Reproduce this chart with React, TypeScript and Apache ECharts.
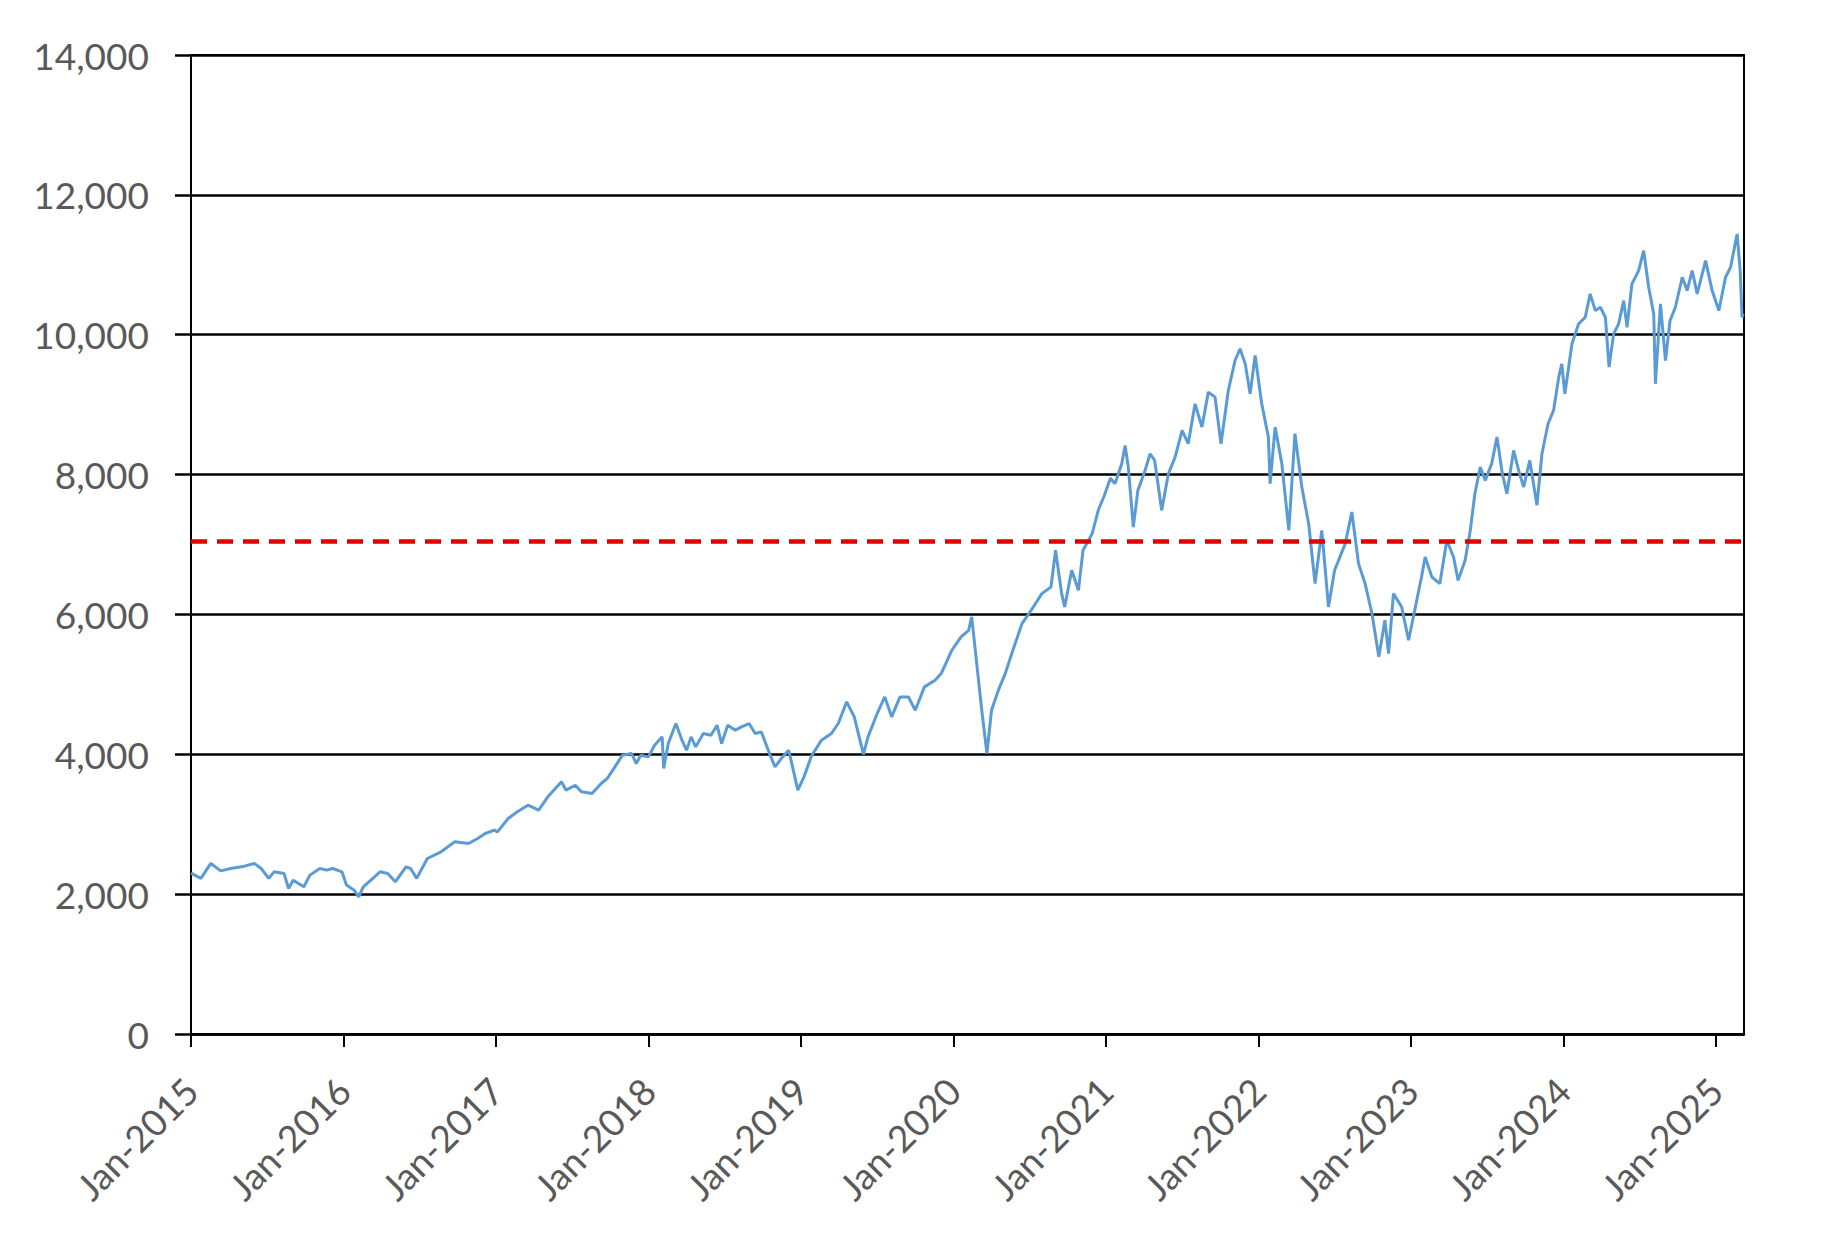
import React, { useEffect, useRef } from "react";
import * as echarts from "echarts";

// Year ticks on the x axis (label "Jan-YYYY")
const tickYears = [2015, 2016, 2017, 2018, 2019, 2020, 2021, 2022, 2023, 2024, 2025];
const startYear = 2015;
const endYearOffset = 10.185; // data run to early March 2025

// Time offsets in years from Jan-2015
const times = [
  0.0, 0.065, 0.13, 0.195, 0.26, 0.35, 0.415, 0.46, 0.51, 0.545, 0.61, 0.64, 0.67, 0.74, 0.78, 0.845, 0.89, 0.93, 0.99,
  1.02, 1.07, 1.1, 1.13, 1.18, 1.24, 1.29, 1.34, 1.41, 1.44, 1.48, 1.55, 1.64, 1.73, 1.82, 1.88, 1.93, 1.99,
  2.01, 2.08, 2.14, 2.21, 2.28, 2.34, 2.43, 2.46, 2.52, 2.56, 2.63, 2.69, 2.73, 2.78, 2.83, 2.89, 2.92, 2.95,
  3.0, 3.04, 3.09, 3.1, 3.13, 3.18, 3.22, 3.25, 3.28, 3.31, 3.36, 3.41, 3.45, 3.48, 3.52, 3.57, 3.61, 3.66, 3.7, 3.74,
  3.79, 3.83, 3.88, 3.92, 3.95, 3.98,
  4.02, 4.07, 4.135, 4.2, 4.245, 4.3, 4.35, 4.41, 4.44, 4.5, 4.55, 4.595, 4.65, 4.705, 4.75, 4.81, 4.88, 4.92, 4.99,
  5.05, 5.1, 5.12, 5.153, 5.186, 5.22, 5.25, 5.295, 5.34, 5.39, 5.45, 5.51, 5.58, 5.64, 5.67, 5.71, 5.73, 5.776,
  5.82, 5.85, 5.91, 5.95, 5.99,
  6.03, 6.06, 6.104, 6.126, 6.147, 6.18, 6.21, 6.257, 6.29, 6.32, 6.366, 6.41, 6.454, 6.5, 6.54, 6.585, 6.63, 6.672,
  6.716, 6.755, 6.803, 6.847, 6.88, 6.914, 6.946, 6.979,
  7.022, 7.066, 7.077, 7.11, 7.154, 7.2, 7.24, 7.285, 7.33, 7.372, 7.416, 7.46, 7.5, 7.57, 7.613, 7.657, 7.7, 7.745,
  7.79, 7.83, 7.854, 7.886, 7.94, 7.985,
  8.03, 8.07, 8.094, 8.138, 8.19, 8.236, 8.28, 8.31, 8.356, 8.39, 8.42, 8.455, 8.488, 8.53, 8.565, 8.6, 8.63, 8.674,
  8.707, 8.74, 8.78, 8.827, 8.86, 8.9, 8.936, 8.97, 8.99,
  9.01, 9.057, 9.1, 9.144, 9.176, 9.21, 9.243, 9.276, 9.3, 9.33, 9.363, 9.396, 9.418, 9.45, 9.494, 9.527, 9.56, 9.593,
  9.604, 9.637, 9.67, 9.7, 9.735, 9.78, 9.812, 9.845, 9.878, 9.933, 9.976,
  10.02, 10.064, 10.097, 10.14, 10.16, 10.172, 10.18,
];

// Index values at those times
const values = [
  2300, 2225, 2439, 2333, 2367, 2400, 2439, 2367, 2225, 2319, 2295, 2081, 2200, 2105, 2272, 2367, 2343, 2367, 2319,
  2129, 2057, 1962, 2105, 2200, 2319, 2295, 2176, 2391, 2367, 2225, 2510, 2605, 2748, 2724, 2796, 2867, 2915,
  2891, 3082, 3177, 3272, 3201, 3392, 3606, 3487, 3558, 3463, 3439, 3582, 3654, 3820, 3987, 4011, 3868, 3987,
  3963, 4130, 4249, 3796, 4154, 4440, 4201, 4058, 4249, 4106, 4297, 4273, 4416, 4154, 4416, 4345, 4392, 4440, 4297, 4321,
  4035, 3820, 3963, 4058, 3773, 3487,
  3677, 3980, 4202, 4297, 4440, 4750, 4535, 4000, 4249, 4583, 4821, 4535, 4820, 4820, 4630, 4964, 5059, 5154, 5488,
  5678, 5773, 5964, 5297, 4630, 4011, 4630, 4916, 5154, 5487, 5869, 6060, 6298, 6393, 6917, 6298, 6107, 6631,
  6345, 6917, 7155, 7488, 7700,
  7950, 7869, 8155, 8417, 8107, 7250, 7774, 8059, 8298, 8202, 7488, 8012, 8250, 8631, 8441, 9012, 8679, 9179,
  9107, 8441, 9202, 9631, 9798, 9583, 9155, 9703,
  9012, 8536, 7869, 8679, 8155, 7202, 8584, 7821, 7298, 6441, 7202, 6107, 6631, 7012, 7464, 6726, 6441, 6012,
  5393, 5917, 5441, 6298, 6107, 5631,
  6107, 6536, 6821, 6535, 6440, 7060, 6821, 6487, 6774, 7203, 7726, 8107, 7917, 8155, 8536, 8012, 7726, 8345,
  8060, 7822, 8203, 7560, 8298, 8727, 8917, 9393, 9584,
  9155, 9870, 10155, 10250, 10584, 10345, 10393, 10250, 9536, 10012, 10155, 10488, 10107, 10727, 10917, 11203, 10679, 10298,
  9298, 10440, 9631, 10203, 10393, 10822, 10631, 10917, 10584, 11060, 10631,
  10345, 10822, 10965, 11441, 10917, 10250, 10300,
];

const referenceLevel = 7040; // red dashed line

const yMin = 0;
const yMax = 14000;
const yStep = 2000;

const FONT = "Lato, 'Open Sans', sans-serif";
const LABEL_COLOR = "#595959";

export default function App() {
  const ref = useRef<HTMLDivElement>(null);

  useEffect(() => {
    if (!ref.current) return;
    const chart = echarts.init(ref.current, null, { renderer: "svg" });
    const seriesData = times.map((t, i) => [startYear + t, values[i]]);

    chart.setOption({
      animation: false,
      backgroundColor: "#ffffff",
      grid: {
        left: 191,
        right: 86,
        top: 55,
        bottom: 204,
        show: true,
        borderColor: "#000000",
        borderWidth: 2,
        backgroundColor: "transparent",
      },
      xAxis: {
        type: "value",
        min: startYear,
        max: startYear + endYearOffset,
        interval: 1,
        axisLine: { show: true, lineStyle: { color: "#000000", width: 2.5 } },
        axisTick: {
          show: true,
          inside: false,
          length: 13,
          lineStyle: { color: "#000000", width: 2 },
          customValues: tickYears,
        },
        axisLabel: {
          customValues: tickYears,
          rotate: 45,
          margin: 50,
          fontSize: 37,
          fontFamily: FONT,
          color: LABEL_COLOR,
          formatter: (v: number) => "Jan-" + Math.round(v),
        },
        splitLine: { show: false },
      },
      yAxis: {
        type: "value",
        min: yMin,
        max: yMax,
        interval: yStep,
        axisLine: { show: true, lineStyle: { color: "#000000", width: 2 } },
        axisTick: { show: true, inside: false, length: 16, lineStyle: { color: "#000000", width: 2.5 } },
        axisLabel: {
          margin: 42,
          fontSize: 37,
          fontFamily: FONT,
          color: LABEL_COLOR,
          formatter: (v: number) => v.toLocaleString("en-US"),
        },
        splitLine: { show: true, lineStyle: { color: "#000000", width: 2.5 } },
      },
      series: [
        {
          type: "line",
          data: seriesData,
          showSymbol: false,
          symbol: "none",
          lineStyle: { color: "#5B9BD5", width: 3 },
          markLine: {
            silent: true,
            symbol: ["none", "none"],
            label: { show: false },
            lineStyle: { color: "#E00000", width: 4.5, type: [16, 10] },
            data: [{ yAxis: referenceLevel }],
          },
        },
      ],
    });

    return () => chart.dispose();
  }, []);

  return (
    <div
      ref={ref}
      style={{ position: "absolute", left: 0, top: 0, width: 1830, height: 1238, background: "#ffffff" }}
    />
  );
}
